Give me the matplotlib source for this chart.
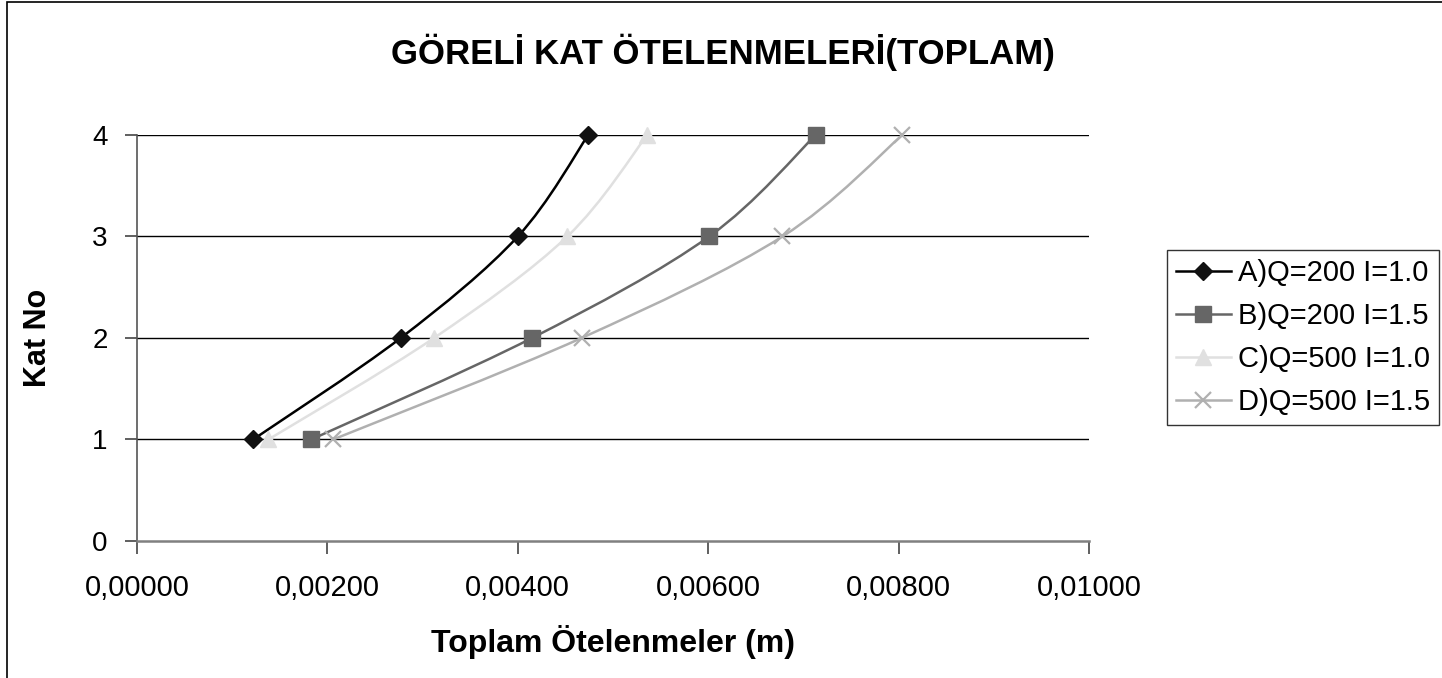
import numpy as np
import matplotlib
matplotlib.use("Agg")
import matplotlib.pyplot as plt
from matplotlib.path import Path
from matplotlib.patches import PathPatch, Rectangle
from matplotlib.lines import Line2D

plt.rcParams['font.family'] = ['Liberation Sans', 'DejaVu Sans']

kat_no = [1, 2, 3, 4]
seri_adlari = ['A)Q=200 I=1.0', 'B)Q=200 I=1.5', 'C)Q=500 I=1.0', 'D)Q=500 I=1.5']
oteleme_A = [0.00122, 0.00277, 0.00400, 0.00474]
oteleme_B = [0.00183, 0.00415, 0.00601, 0.00713]
oteleme_C = [0.00138, 0.00312, 0.00452, 0.00536]
oteleme_D = [0.00206, 0.00467, 0.00678, 0.00804]
x_ticks = [0.0, 0.002, 0.004, 0.006, 0.008, 0.010]
y_ticks = [0, 1, 2, 3, 4]

renkler = ['#000000', '#666666', '#e0e0e0', '#b0b0b0']
marker_renk = ['#111111', '#666666', '#e0e0e0', '#b0b0b0']
markerler = ['D', 's', '^', 'x']
marker_boy = [9, 11, 11, 12]


def yumusak_yol(xs, ys):
    # Catmull-Rom style smoothed path through the points (cubic Bezier segments)
    p = np.column_stack([xs, ys]).astype(float)
    n = len(p)
    verts = [p[0]]
    codes = [Path.MOVETO]
    for i in range(n - 1):
        p0 = p[i - 1] if i > 0 else p[i]
        p1 = p[i]
        p2 = p[i + 1]
        p3 = p[i + 2] if i + 2 < n else p[i + 1]
        c1 = p1 + (p2 - p0) / 6.0
        c2 = p2 - (p3 - p1) / 6.0
        verts += [c1, c2, p2]
        codes += [Path.CURVE4] * 3
    return Path(verts, codes)


fig = plt.figure(figsize=(14.42, 6.78), dpi=100)
ax = fig.add_axes([0.0950, 0.2021, 0.6602, 0.5988])

# outer chart frame (right and bottom edges run off the canvas)
fig.patches.append(Rectangle((7 / 1442, -0.05), 1.05, 1.05 - 2 / 678, transform=fig.transFigure,
                             fill=False, edgecolor='black', linewidth=1.2))

for i, seri in enumerate([oteleme_A, oteleme_B, oteleme_C, oteleme_D]):
    yol = yumusak_yol(seri, kat_no)
    ax.add_patch(PathPatch(yol, facecolor='none', edgecolor=renkler[i], linewidth=1.8, zorder=3))
    ax.plot(seri, kat_no, linestyle='none', marker=markerler[i], markersize=marker_boy[i],
            color=marker_renk[i], markeredgewidth=1.6 if markerler[i] == 'x' else 1.0,
            zorder=4, clip_on=False)

ax.set_xlim(0, 0.010)
ax.set_ylim(0, 4)
ax.set_xticks(x_ticks)
ax.set_xticklabels([f"{v:.5f}".replace('.', ',') for v in x_ticks])
ax.set_yticks(y_ticks)

for k in kat_no:
    ax.axhline(k, color='black', linewidth=1.0, zorder=1)

for s in ['top', 'right']:
    ax.spines[s].set_visible(False)
ax.spines['left'].set_color('#555555')
ax.spines['bottom'].set_color('#808080')
ax.spines['left'].set_linewidth(1.2)
ax.spines['bottom'].set_linewidth(1.8)
ax.tick_params(axis='both', direction='out', length=9, width=1.2, colors='#444444',
               labelcolor='black', labelsize=20)
ax.tick_params(axis='x', labelsize=21, pad=15)
ax.tick_params(axis='y', pad=12)

ax.set_xlabel('Toplam Ötelenmeler (m)', fontsize=23, fontweight='bold', labelpad=16)
ax.set_ylabel('Kat No', fontsize=22, fontweight='bold', labelpad=28)
fig.text(0.501, 0.923, 'GÖRELİ KAT ÖTELENMELERİ(TOPLAM)', ha='center', va='center',
         fontsize=25, fontweight='bold')

tutamaklar = [Line2D([], [], color=renkler[i], linewidth=1.8, marker=markerler[i],
                     markersize=marker_boy[i], markerfacecolor=marker_renk[i],
                     markeredgecolor=marker_renk[i],
                     markeredgewidth=1.6 if markerler[i] == 'x' else 1.0)
              for i in range(4)]
leg = fig.legend(tutamaklar, seri_adlari, loc='lower left', bbox_to_anchor=(0.8093, 0.373),
                 bbox_transform=fig.transFigure, fontsize=21, frameon=True, fancybox=False,
                 handlelength=1.9, handletextpad=0.25, labelspacing=0.52, borderpad=0.3,
                 borderaxespad=0)
leg.get_frame().set_edgecolor('black')
leg.get_frame().set_linewidth(1.0)

fig.savefig('out.png', dpi=100)
